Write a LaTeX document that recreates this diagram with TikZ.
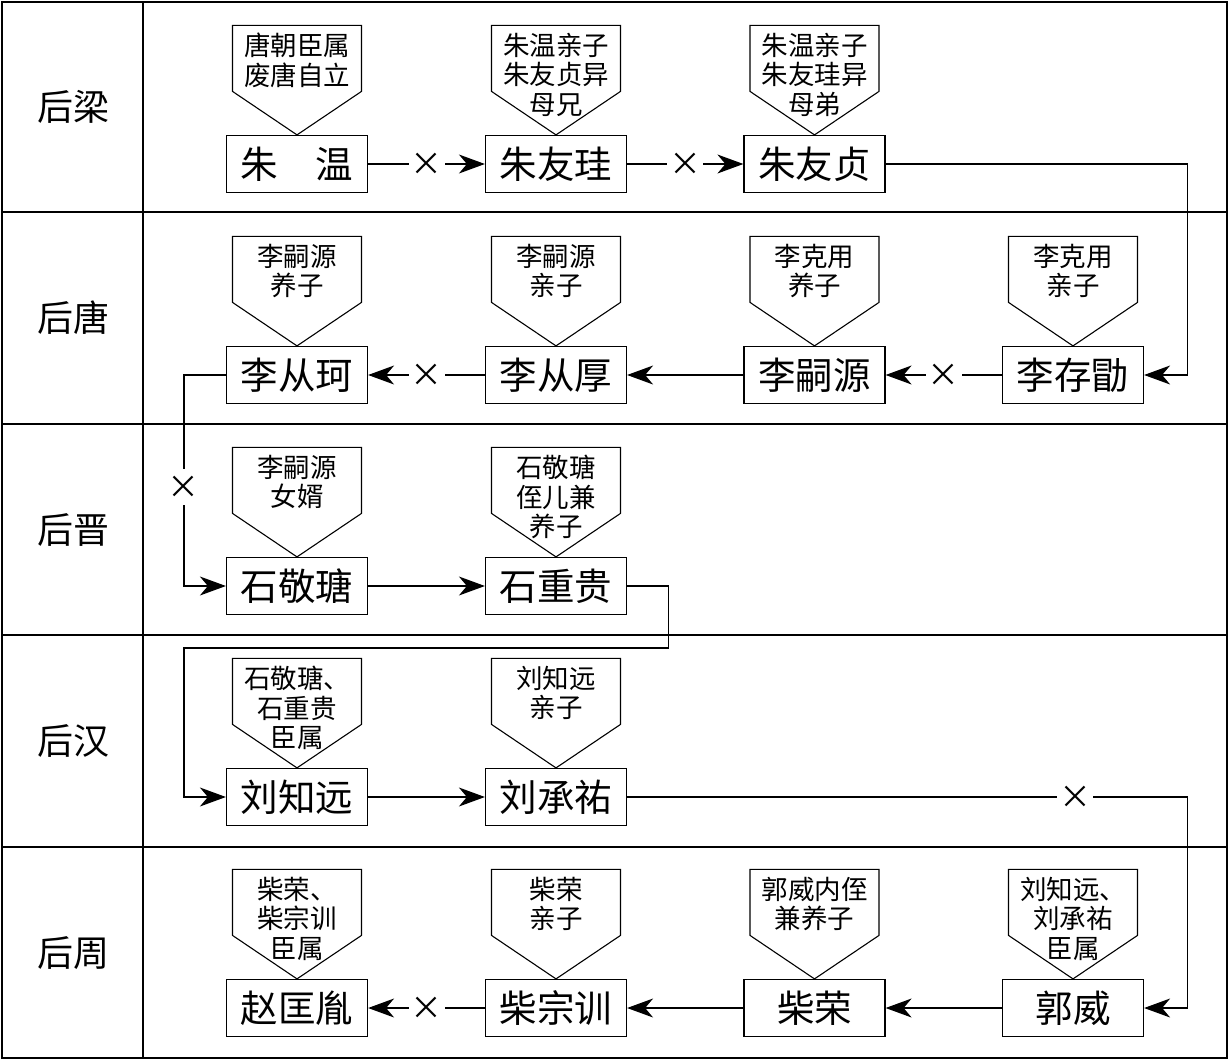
\documentclass[tikz,border=0pt]{standalone}
\usepackage{fontspec}
\setmainfont{Noto Sans CJK SC}
\usetikzlibrary{arrows.meta,calc}
\newcommand\mycallout[3]{%
  \draw[cl] ($(#1.north)+(-64.5,-43.5)$) -- ++(0,-66) -- ++(129,0) -- ++(0,66) -- (#1.north) -- cycle;
  \node[ctext] (#2) at ($(#1.north)+(0,-102)$) {#3};}
\begin{document}
\begin{tikzpicture}[x=1pt,y=-1pt,
  box/.style={draw,line width=1.2pt,minimum width=141pt,minimum height=57pt,inner sep=0pt,font=\fontsize{37.5}{40}\selectfont},
  ctext/.style={align=center,inner sep=0pt,font=\fontsize{26.5}{29.5}\selectfont,anchor=north},
  cl/.style={draw,line width=1.1pt,line join=miter},
  arr/.style={line width=1.2pt,-{Stealth[length=26pt,width=19pt,inset=8pt]}},
  xmark/.style={fill=white,inner sep=0pt,minimum size=36pt,font=\fontsize{32}{32}\selectfont},
  lab/.style={font=\fontsize{36}{40}\selectfont}]
\useasboundingbox (0,0) rectangle (1229,1060);
% frame
\draw[line width=2.5pt] (2,2) rectangle (1227,1058);
\draw[line width=1.4pt] (143,2) -- (143,1058);
\foreach \yy in {212,424,635,847} \draw[line width=1.4pt] (2,\yy) -- (1227,\yy);
% row labels
\node[lab] (r1) at (73,107) {后梁};
\node[lab] (r2) at (73,318) {后唐};
\node[lab] (r3) at (73,530) {后晋};
\node[lab] (r4) at (73,741) {后汉};
\node[lab] (r5) at (73,953) {后周};
% row 1
\node[box] (zw)  at (297,164) {朱\hspace{1em}温};
\node[box] (zyg) at (556,164) {朱友珪};
\node[box] (zyz) at (814.5,164) {朱友贞};
\mycallout{zw}{c11}{唐朝臣属\\废唐自立}
\mycallout{zyg}{c12}{朱温亲子\\朱友贞异\\母兄}
\mycallout{zyz}{c13}{朱温亲子\\朱友珪异\\母弟}
% row 2
\node[box] (lck) at (297,375) {李从珂};
\node[box] (lch) at (556,375) {李从厚};
\node[box] (lsy) at (814.5,375) {李嗣源};
\node[box] (lcx) at (1073,375) {李存勖};
\mycallout{lck}{c21}{李嗣源\\养子}
\mycallout{lch}{c22}{李嗣源\\亲子}
\mycallout{lsy}{c23}{李克用\\养子}
\mycallout{lcx}{c24}{李克用\\亲子}
% row 3
\node[box] (sjt) at (297,586) {石敬瑭};
\node[box] (szg) at (556,586) {石重贵};
\mycallout{sjt}{c31}{李嗣源\\女婿}
\mycallout{szg}{c32}{石敬瑭\\侄儿兼\\养子}
% row 4
\node[box] (lzy) at (297,797) {刘知远};
\node[box] (lcy) at (556,797) {刘承祐};
\mycallout{lzy}{c41}{石敬瑭、\\石重贵\\臣属}
\mycallout{lcy}{c42}{刘知远\\亲子}
% row 5
\node[box] (zky) at (297,1008) {赵匡胤};
\node[box] (czx) at (556,1008) {柴宗训};
\node[box] (cr)  at (814.5,1008) {柴荣};
\node[box] (gw)  at (1073,1008) {郭威};
\mycallout{zky}{c51}{柴荣、\\柴宗训\\臣属}
\mycallout{czx}{c52}{柴荣\\亲子}
\mycallout{cr}{c53}{郭威内侄\\兼养子}
\mycallout{gw}{c54}{刘知远、\\刘承祐\\臣属}
% connectors
\draw[arr] (zw.east) -- node[xmark]{×} (zyg.west);
\draw[arr] (zyg.east) -- node[xmark]{×} (zyz.west);
\draw[arr] (zyz.east) -- ++(301.5,0) |- (lcx.east);
\draw[arr] (lcx.west) -- node[xmark]{×} (lsy.east);
\draw[arr] (lsy.west) -- (lch.east);
\draw[arr] (lch.west) -- node[xmark]{×} (lck.east);
\draw[arr] (lck.west) -- ++(-42,0) -- node[xmark,pos=0.53]{×} ++(0,211) -- (sjt.west);
\draw[arr] (sjt.east) -- (szg.west);
\draw[arr] (szg.east) -- ++(41.5,0) -- ++(0,62) -| ($(lzy.west)+(-42,0)$) -- (lzy.west);
\draw[arr] (lzy.east) -- (lcy.west);
\draw[arr] (lcy.east) -- node[xmark,pos=0.8]{×} ++(560,0) |- (gw.east);
\draw[arr] (gw.west) -- (cr.east);
\draw[arr] (cr.west) -- (czx.east);
\draw[arr] (czx.west) -- node[xmark]{×} (zky.east);
\end{tikzpicture}
\end{document}
